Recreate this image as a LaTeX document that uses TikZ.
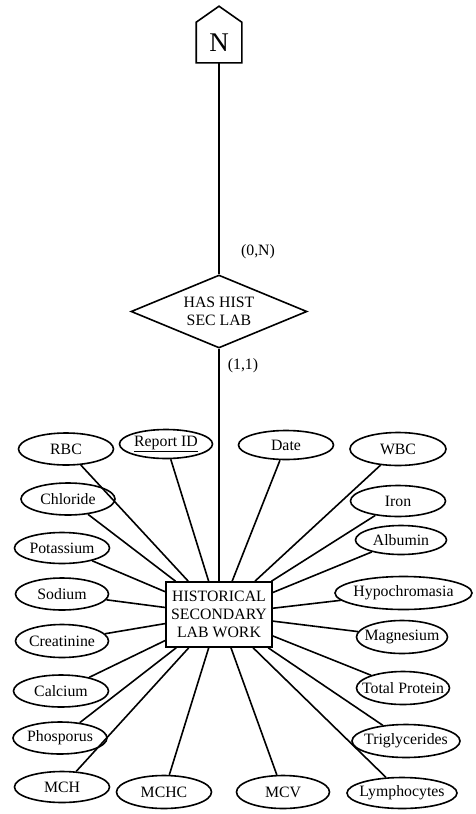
\documentclass[tikz,border=0pt]{standalone}
\usepackage{fontspec}
\setmainfont{Liberation Serif}
\usetikzlibrary{shapes.geometric,calc}
\newcommand\zbox[1]{\makebox[0pt]{#1}}
\begin{document}
\begin{tikzpicture}[x=1pt,y=-1pt,line width=1.6pt,
  txt/.style={font=\fontsize{15.8}{18}\selectfont},
  attr/.style 2 args={ellipse,draw,inner sep=0pt,txt,minimum width=#1pt,minimum height=#2pt},
  conn/.style={line width=1.6pt}]
\useasboundingbox (0,0) rectangle (475,814);
% top entity (pentagon)
\node[minimum width=44pt,minimum height=39pt,inner sep=0pt,font=\fontsize{27}{27}\selectfont] (n) at (219,42.5) {N};
\draw[line join=miter] (n.south west) -- (n.south east) -- (n.north east) -- ($(n.north)+(0,-16)$) -- (n.north west) -- cycle;
% relationship
\node[diamond,draw,aspect=2.4,minimum width=176pt,minimum height=73pt,inner sep=0pt,align=center,txt] (rel) at (219,311.5) {HAS HIST\\SEC LAB};
% main entity
\node[draw,minimum width=106pt,minimum height=65pt,inner sep=0pt,align=center,txt] (hist) at (219,614.5) {HISTORICAL\\SECONDARY\\LAB WORK};
% cardinalities
\node[txt,inner sep=0pt] (c0n) at (258,252) {(0,N)};
\node[txt,inner sep=0pt] (c11) at (243,366) {(1,1)};
\draw[conn] (n.south) -- (rel.north);
\draw[conn] (rel.south) -- (hist.north);
% attributes
\node[attr={95}{32}] (rbc) at (66,449) {\zbox{RBC}};
\node[attr={93}{29}] (rid) at (166,444) {\zbox{\underline{Report ID}}};
\node[attr={95}{29}] (date) at (286,445) {\zbox{Date}};
\node[attr={96}{33}] (wbc) at (398,449) {\zbox{WBC}};
\node[attr={94}{32}] (chl) at (68,499) {\zbox{Chloride}};
\node[attr={95}{31}] (iron) at (398,501) {\zbox{Iron}};
\node[attr={95}{31}] (pot) at (62,548) {\zbox{Potassium}};
\node[attr={91}{29}] (alb) at (401,540) {\zbox{Albumin}};
\node[attr={93}{32}] (sod) at (62,594) {\zbox{Sodium}};
\node[attr={137}{33}] (hyp) at (403.5,593) {\zbox{Hypochromasia}};
\node[attr={93}{33}] (cre) at (62,641) {\zbox{Creatinine}};
\node[attr={91}{33}] (mag) at (402,637) {\zbox{Magnesium}};
\node[attr={95}{32}] (cal) at (61,691) {\zbox{Calcium}};
\node[attr={93}{33}] (tp) at (403,688) {\zbox{Total Protein}};
\node[attr={94}{32}] (pho) at (60,738) {\zbox{Phosporus}};
\node[attr={108}{33}] (tri) at (406,741) {\zbox{Triglycerides}};
\node[attr={95}{31}] (mch) at (62,787) {\zbox{MCH}};
\node[attr={95}{33}] (mchc) at (164,792) {\zbox{MCHC}};
\node[attr={93}{33}] (mcv) at (283,792) {\zbox{MCV}};
\node[attr={110}{31}] (lym) at (402,793) {\zbox{Lymphocytes}};
\foreach \a in {rbc,rid,date,wbc,chl,iron,pot,alb,sod,hyp,cre,mag,cal,tp,pho,tri,mch,mchc,mcv,lym}
  \draw[conn] (hist) -- (\a);
\end{tikzpicture}
\end{document}
